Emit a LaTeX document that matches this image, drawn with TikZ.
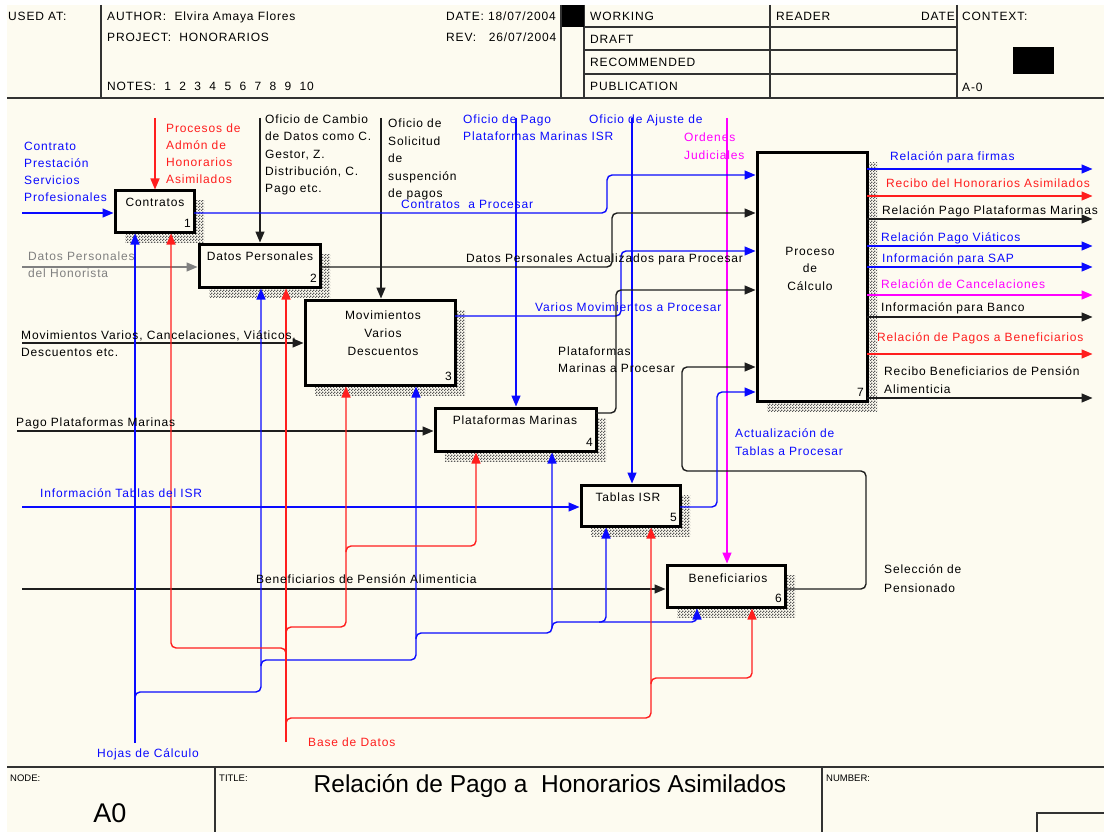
\documentclass[tikz,border=0pt]{standalone}
\usepackage{fontspec}
\setmainfont{Liberation Sans}[LetterSpace=7]
\newfontfamily\plainsans{Liberation Sans}
\usetikzlibrary{arrows.meta,patterns}

\definecolor{paper}{RGB}{253,251,240}
\definecolor{ink}{RGB}{50,50,50}
\definecolor{wblack}{RGB}{30,30,30}
\definecolor{lblue}{RGB}{10,10,255}
\definecolor{lred}{RGB}{255,30,30}
\definecolor{lmag}{RGB}{255,0,255}
\definecolor{lgray}{RGB}{128,128,128}

% fine checker used for the drop shadows of the activity boxes
\pgfdeclarepatternformonly{dither}{\pgfqpoint{0pt}{0pt}}{\pgfqpoint{3pt}{3pt}}{\pgfqpoint{3pt}{3pt}}{%
  \pgfpathrectangle{\pgfqpoint{0pt}{0pt}}{\pgfqpoint{1.5pt}{1.5pt}}%
  \pgfpathrectangle{\pgfqpoint{1.5pt}{1.5pt}}{\pgfqpoint{1.5pt}{1.5pt}}%
  \pgfusepath{fill}}

% name, colour, x, y, text
\newcommand\putlabel[5]{\node[t,text=#2] (#1) at (#3,#4) {#5};}

\tikzset{
  frame/.style={draw=ink, line width=1.3pt},
  heavy/.style={draw=ink, line width=2.4pt},
  box/.style={draw=black, line width=3pt, fill=paper, inner sep=0pt, outer sep=0pt, anchor=north west},
  shadowfill/.style={pattern=dither, pattern color=black!65},
  wire/.style={line width=1.4pt, rounded corners=5pt},
  con/.style={wire, -{Triangle[length=11pt,width=9pt]}, shorten >=1.5pt},
  t/.style={inner sep=0pt, anchor=west, text height=8.6pt, text depth=0pt, font=\fontsize{12}{14}\selectfont},
  tc/.style={t, anchor=center},
  tr/.style={t, anchor=east},
  small/.style={inner sep=0pt, anchor=west, text height=7pt, text depth=0pt, font=\plainsans\fontsize{9.5}{11}\selectfont},
}

\begin{document}
\begin{tikzpicture}[x=1pt,y=-1pt]
\useasboundingbox (0,0) rectangle (1104,832);
\fill[white] (0,0) rectangle (1104,832);
\fill[paper] (7,5) rectangle (1104,832);

% ---------- header ----------
\draw[frame] (101,5) -- (101,98);
\draw[frame] (561,5) -- (561,98);
\draw[frame] (584,5) -- (584,98);
\draw[frame] (770,5) -- (770,98);
\draw[frame] (957,5) -- (957,98);
\draw[frame] (584,27) -- (957,27);
\draw[frame] (584,50) -- (957,50);
\draw[frame] (584,74) -- (957,74);
\fill[black] (562,5) rectangle (584,27);
\fill[black] (1013,47) rectangle (1054,74);
\draw[heavy] (7,98) -- (1104,98);

\putlabel{usedat}{black}{8}{16}{USED AT:}
\putlabel{author}{black}{107}{16}{AUTHOR:\ \ Elvira Amaya Flores}
\putlabel{project}{black}{107}{37}{PROJECT:\ \ HONORARIOS}
\putlabel{notes}{black}{107}{86}{NOTES:\ \ 1\ \ 2\ \ 3\ \ 4\ \ 5\ \ 6\ \ 7\ \ 8\ \ 9\ \ 10}
\putlabel{date}{black}{446}{16}{DATE: 18/07/2004}
\putlabel{rev}{black}{446}{37}{REV:\ \ \ 26/07/2004}
\putlabel{working}{black}{590}{16}{WORKING}
\putlabel{draft}{black}{590}{39}{DRAFT}
\putlabel{recom}{black}{590}{62}{RECOMMENDED}
\putlabel{publ}{black}{590}{86}{PUBLICATION}
\putlabel{reader}{black}{776}{16}{READER}
\node[tr] (rdate) at (955,16) {DATE};
\putlabel{context}{black}{962}{16}{CONTEXT:}
\putlabel{aminus}{black}{962}{87}{A-0}

% ---------- title block ----------
\draw[heavy] (7,767) -- (1104,767);
\draw[frame] (215,767) -- (215,832);
\draw[frame] (822,767) -- (822,832);
\draw[frame] (1037,832) -- (1037,813) -- (1104,813);
\node[small] (nodelbl) at (10,778) {NODE:};
\node[small] (titlelbl) at (219,778) {TITLE:};
\node[small] (numlbl) at (826,778) {NUMBER:};
\node[inner sep=0pt, font=\plainsans\fontsize{27}{30}\selectfont] (nodeid) at (110,813) {A0};
\node[inner sep=0pt, font=\plainsans\fontsize{24.5}{28}\selectfont] (title) at (550,786) {Relación de Pago a\ \ Honorarios Asimilados};

% ---------- shadows ----------
\fill[shadowfill] (125,201) rectangle (204,242);
\fill[shadowfill] (209,254) rectangle (330,297);
\fill[shadowfill] (315,310) rectangle (465,395);
\fill[shadowfill] (445,418) rectangle (606,461);
\fill[shadowfill] (591,495) rectangle (690,536);
\fill[shadowfill] (677,575) rectangle (795,617);
\fill[shadowfill] (767,163) rectangle (877,411);

% ---------- activity boxes ----------
\node[box, minimum width=79pt, minimum height=41pt] (B1) at (115,191) {};
\node[box, minimum width=121pt, minimum height=43pt] (B2) at (199,244) {};
\node[box, minimum width=150pt, minimum height=85pt] (B3) at (305,300) {};
\node[box, minimum width=161pt, minimum height=43pt] (B4) at (435,408) {};
\node[box, minimum width=99pt, minimum height=41pt] (B5) at (581,485) {};
\node[box, minimum width=118pt, minimum height=42pt] (B6) at (667,565) {};
\node[box, minimum width=110pt, minimum height=248pt] (B7) at (757,153) {};

\node[tc] (B1t) at (155,202) {Contratos};
\node[tr] (B1n) at (191,223) {1};
\node[tc] (B2t) at (260,256) {Datos Personales};
\node[tr] (B2n) at (317,278) {2};
\node[tc] (B3a) at (383,315) {Movimientos};
\node[tc] (B3b) at (383,333) {Varios};
\node[tc] (B3c) at (383,351) {Descuentos};
\node[tr] (B3n) at (452,376) {3};
\node[tc] (B4t) at (515,420) {Plataformas Marinas};
\node[tr] (B4n) at (593,442) {4};
\node[tc] (B5t) at (628,497) {Tablas ISR};
\node[tr] (B5n) at (677,517) {5};
\node[tc] (B6t) at (728,578) {Beneficiarios};
\node[tr] (B6n) at (782,598) {6};
\node[tc] (B7a) at (810,251) {Proceso};
\node[tc] (B7b) at (810,268) {de};
\node[tc] (B7c) at (810,286) {Cálculo};
\node[tr] (B7n) at (864,392) {7};

% ---------- free ends ----------
\coordinate (i1) at (22,213);
\coordinate (i2) at (22,267);
\coordinate (i3) at (22,343);
\coordinate (i4) at (17,431);
\coordinate (i5) at (22,507);
\coordinate (i6) at (22,589);
\coordinate (c1) at (155,118);
\coordinate (c2) at (260,118);
\coordinate (c3) at (381,118);
\coordinate (c4) at (516,118);
\coordinate (c5) at (632,118);
\coordinate (c6) at (727,118);
\coordinate (o1) at (1094,169);
\coordinate (o2) at (1094,196);
\coordinate (o3) at (1094,219);
\coordinate (o4) at (1094,246);
\coordinate (o5) at (1094,267);
\coordinate (o6) at (1094,295);
\coordinate (o7) at (1094,317);
\coordinate (o8) at (1094,354);
\coordinate (o9) at (1094,398);
\coordinate (hojas) at (135,743);
\coordinate (bd) at (286,742);

% ---------- inputs ----------
\draw[con,lblue] (i1) -- (B1.west |- i1);
\draw[con,lgray] (i2) -- (B2.west |- i2);
\draw[con,wblack] (i3) -- (B3.west |- i3);
\draw[con,wblack] (i4) -- (B4.west |- i4);
\draw[con,lblue] (i5) -- (B5.west |- i5);
\draw[con,wblack] (i6) -- (B6.west |- i6);

% ---------- controls ----------
\draw[con,lred] (c1) -- (B1.north -| c1);
\draw[con,wblack] (c2) -- (B2.north -| c2);
\draw[con,wblack] (c3) -- (B3.north -| c3);
\draw[con,lblue] (c4) -- (B4.north -| c4);
\draw[con,lblue] (c5) -- (B5.north -| c5);
\draw[con,lmag] (c6) -- (B6.north -| c6);

% ---------- flows into Proceso de Calculo ----------
\draw[con,lblue] (B1.east |- 0,213) -- (607,213) -- (607,175) -- (B7.west |- 0,175);
\draw[con,wblack] (B2.east |- 0,267) -- (612,267) -- (612,213) -- (B7.west |- 0,213);
\draw[con,lblue] (B3.east |- 0,316) -- (621,316) -- (621,251) -- (B7.west |- 0,251);
\draw[con,wblack] (B4.east |- 0,413) -- (616,413) -- (616,290) -- (B7.west |- 0,290);
\draw[con,wblack] (B6.east |- 0,589) -- (866,589) -- (866,471) -- (682,471) -- (682,367) -- (B7.west |- 0,367);
\draw[con,lblue] (B5.east |- 0,507) -- (717,507) -- (717,392) -- (B7.west |- 0,392);

% ---------- outputs ----------
\draw[con,lblue] (B7.east |- o1) -- (o1);
\draw[con,lred] (B7.east |- o2) -- (o2);
\draw[con,wblack] (B7.east |- o3) -- (o3);
\draw[con,lblue] (B7.east |- o4) -- (o4);
\draw[con,lblue] (B7.east |- o5) -- (o5);
\draw[con,lmag] (B7.east |- o6) -- (o6);
\draw[con,wblack] (B7.east |- o7) -- (o7);
\draw[con,lred] (B7.east |- o8) -- (o8);
\draw[con,wblack] (B7.east |- o9) -- (o9);

% ---------- mechanisms: Hojas de Calculo ----------
\draw[con,lblue] (hojas) -- (B1.south -| hojas);
\draw[con,lblue] (135,698) -- (135,692) -| (B2.south -| 261,0);
\draw[con,lblue] (261,666) -- (261,660) -| (B3.south -| 416,0);
\draw[con,lblue] (416,639) -- (416,633) -| (B4.south -| 552,0);
\draw[con,lblue] (552,628) -- (552,622) -| (B6.south -| 697,0);
\draw[con,lblue] (599,622) -| (B5.south -| 606,0);

% ---------- mechanisms: Base de Datos ----------
\draw[con,lred] (bd) -- (B2.south -| bd);
\draw[con,lred] (286,654) -- (286,648) -| (B1.south -| 171,0);
\draw[con,lred] (286,633) -- (286,627) -| (B3.south -| 346,0);
\draw[con,lred] (346,552) -- (346,546) -| (B4.south -| 476,0);
\draw[con,lred] (286,724) -- (286,718) -| (B5.south -| 651,0);
\draw[con,lred] (651,684) -- (651,678) -| (B6.south -| 752,0);

% ---------- arrow labels ----------
\putlabel{la1}{lblue}{24}{146}{Contrato}
\putlabel{la2}{lblue}{24}{163}{Prestación}
\putlabel{la3}{lblue}{24}{180}{Servicios}
\putlabel{la4}{lblue}{24}{197}{Profesionales}
\putlabel{lb1}{lred}{166}{128}{Procesos de}
\putlabel{lb2}{lred}{166}{145}{Admón de}
\putlabel{lb3}{lred}{166}{162}{Honorarios}
\putlabel{lb4}{lred}{166}{179}{Asimilados}
\putlabel{lc1}{black}{265}{119}{Oficio de Cambio}
\putlabel{lc2}{black}{265}{136}{de Datos como C.}
\putlabel{lc3}{black}{265}{154}{Gestor, Z.}
\putlabel{lc4}{black}{265}{171}{Distribución, C.}
\putlabel{lc5}{black}{265}{188}{Pago etc.}
\putlabel{ld1}{black}{388}{123}{Oficio de}
\putlabel{ld2}{black}{388}{141}{Solicitud}
\putlabel{ld3}{black}{388}{158}{de}
\putlabel{ld4}{black}{388}{176}{suspención}
\putlabel{ld5}{black}{388}{193}{de pagos}
\putlabel{le1}{lblue}{463}{119}{Oficio de Pago}
\putlabel{le2}{lblue}{463}{136}{Plataformas Marinas ISR}
\putlabel{lf1}{lblue}{589}{119}{Oficio de Ajuste de}
\putlabel{lg1}{lmag}{684}{137}{Ordenes}
\putlabel{lg2}{lmag}{684}{155}{Judiciales}
\putlabel{lh1}{lgray}{28}{256}{Datos Personales}
\putlabel{lh2}{lgray}{28}{273}{del Honorista}
\putlabel{li1}{black}{21}{335}{Movimientos Varios, Cancelaciones, Viáticos,}
\putlabel{li2}{black}{21}{352}{Descuentos etc.}
\putlabel{lj1}{black}{16}{422}{Pago Plataformas Marinas}
\putlabel{lk1}{lblue}{40}{493}{Información Tablas del ISR}
\putlabel{ll1}{black}{256}{579}{Beneficiarios de Pensión Alimenticia}
\putlabel{lm1}{lblue}{401}{204}{Contratos\ \ a Procesar}
\putlabel{ln1}{black}{466}{258}{Datos Personales Actualizados para Procesar}
\putlabel{lo1}{lblue}{535}{307}{Varios Movimientos a Procesar}
\putlabel{lp1}{black}{558}{351}{Plataformas}
\putlabel{lp2}{black}{558}{368}{Marinas a Procesar}
\putlabel{lq1}{lblue}{735}{433}{Actualización de}
\putlabel{lq2}{lblue}{735}{451}{Tablas a Procesar}
\putlabel{lr1}{black}{884}{569}{Selección de}
\putlabel{lr2}{black}{884}{588}{Pensionado}
\putlabel{lo01}{lblue}{890}{156}{Relación para firmas}
\putlabel{lo02}{lred}{886}{183}{Recibo del Honorarios Asimilados}
\putlabel{lo03}{black}{882}{210}{Relación Pago Plataformas Marinas}
\putlabel{lo04}{lblue}{881}{237}{Relación Pago Viáticos}
\putlabel{lo05}{lblue}{882}{258}{Información para SAP}
\putlabel{lo06}{lmag}{881}{284}{Relación de Cancelaciones}
\putlabel{lo07}{black}{881}{307}{Información para Banco}
\putlabel{lo08}{lred}{877}{337}{Relación de Pagos a Beneficiarios}
\putlabel{lo09}{black}{884}{371}{Recibo Beneficiarios de Pensión}
\putlabel{lo10}{black}{884}{389}{Alimenticia}
\putlabel{ls1}{lblue}{97}{753}{Hojas de Cálculo}
\putlabel{ls2}{lred}{308}{742}{Base de Datos}
\end{tikzpicture}
\end{document}
